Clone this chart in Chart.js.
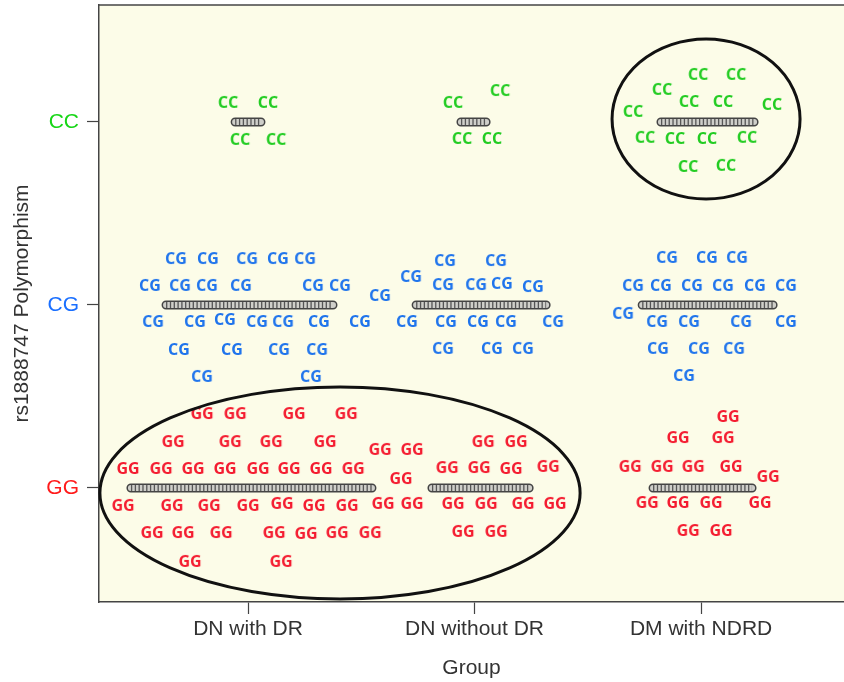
<!DOCTYPE html>
<html>
<head>
<meta charset="utf-8">
<script src="https://cdn.jsdelivr.net/npm/chart.js@4.4.1/dist/chart.umd.min.js"></script>
<style>
  html, body { margin: 0; padding: 0; background: #fff; overflow: hidden; }
  canvas { display: block; }
</style>
</head>
<body>
<canvas id="polyChart" width="844" height="682"></canvas>
<script>
// groups on the x axis, genotypes on the y axis (GG=1, CG=2, CC=3)
const groups = ["DN with DR", "DN without DR", "DM with NDRD"];
const genotypes = ["GG", "CG", "CC"];
const genoColors = ["#ff1a1a", "#1a6fff", "#17d617"];

// scattered genotype labels, [group position, genotype position]
const ccPoints = [
    [-0.088, 3.104], [0.088, 3.104], [-0.035, 2.902], [0.124, 2.902],
    [0.905, 3.104], [1.113, 3.169], [0.945, 2.907], [1.077, 2.907],
    [1.987, 3.257], [2.155, 3.257], [1.828, 3.175], [1.947, 3.109], [2.097, 3.109],
    [2.313, 3.093], [1.700, 3.055], [1.753, 2.913], [1.885, 2.907], [2.026, 2.907],
    [2.203, 2.913], [1.943, 2.754], [2.110, 2.760]
];
const cgPoints = [
    [-0.318, 2.251], [-0.177, 2.251], [-0.004, 2.251], [0.132, 2.251], [0.252, 2.251],
    [-0.433, 2.104], [-0.300, 2.104], [-0.181, 2.104], [-0.031, 2.104], [0.287, 2.104], [0.406, 2.104],
    [-0.419, 1.907], [-0.234, 1.907], [-0.102, 1.918], [0.040, 1.907], [0.155, 1.907], [0.313, 1.907], [0.494, 1.907],
    [-0.305, 1.754], [-0.071, 1.754], [0.137, 1.754], [0.305, 1.754],
    [-0.203, 1.607], [0.278, 1.607], [0.583, 2.049],
    [0.870, 2.240], [1.095, 2.240], [0.720, 2.153], [0.861, 2.109], [1.007, 2.109], [1.121, 2.115], [1.258, 2.098],
    [0.702, 1.907], [0.874, 1.907], [1.015, 1.907], [1.139, 1.907], [1.347, 1.907],
    [0.861, 1.760], [1.077, 1.760], [1.214, 1.760],
    [1.850, 2.257], [2.026, 2.257], [2.159, 2.257],
    [1.700, 2.104], [1.823, 2.104], [1.960, 2.104], [2.097, 2.104], [2.238, 2.104], [2.375, 2.104],
    [1.656, 1.951], [1.806, 1.907], [1.947, 1.907], [2.177, 1.907], [2.375, 1.907],
    [1.810, 1.760], [1.991, 1.760], [2.146, 1.760], [1.925, 1.612]
];
const ggPoints = [
    [-0.203, 1.404], [-0.057, 1.404], [0.203, 1.404], [0.433, 1.404],
    [-0.331, 1.251], [-0.079, 1.251], [0.102, 1.251], [0.340, 1.251],
    [0.583, 1.208], [0.724, 1.208],
    [-0.530, 1.104], [-0.384, 1.104], [-0.243, 1.104], [-0.102, 1.104], [0.044, 1.104],
    [0.181, 1.104], [0.322, 1.104], [0.464, 1.104], [0.675, 1.049],
    [-0.552, 0.902], [-0.336, 0.902], [-0.172, 0.902], [0.000, 0.902], [0.150, 0.913],
    [0.291, 0.902], [0.437, 0.902], [0.596, 0.913], [0.724, 0.913],
    [-0.424, 0.754], [-0.287, 0.754], [-0.119, 0.754], [0.115, 0.754], [0.256, 0.749],
    [0.393, 0.754], [0.539, 0.754], [-0.256, 0.596], [0.146, 0.596],
    [1.038, 1.251], [1.183, 1.251], [0.879, 1.109], [1.020, 1.109], [1.161, 1.104], [1.325, 1.115],
    [0.905, 0.913], [1.051, 0.913], [1.214, 0.913], [1.355, 0.913], [0.949, 0.760], [1.095, 0.760],
    [2.119, 1.388], [1.898, 1.273], [2.097, 1.273],
    [1.687, 1.115], [1.828, 1.115], [1.965, 1.115], [2.132, 1.115], [2.296, 1.060],
    [1.762, 0.918], [1.898, 0.918], [2.044, 0.918], [2.260, 0.918], [1.943, 0.765], [2.088, 0.765]
];

// x extent of each row of individual circles, per genotype
const ggRows = [[-0.517, 0.547], [0.812, 1.241], [1.788, 2.225]];
const cgRows = [[-0.362, 0.375], [0.742, 1.316], [1.740, 2.318]];
const ccRows = [[-0.057, 0.057], [0.940, 1.051], [1.823, 2.234]];

// circled regions: [centre x, centre y, radius x, radius y]
const circled = [[0.406, 0.973, 1.060, 0.579], [2.022, 3.016, 0.415, 0.437]];

function textMarker(text, color) {
    const c = document.createElement('canvas');
    c.width = 30;
    c.height = 20;
    const g = c.getContext('2d');
    g.font = 'bold 16px "Open Sans"';
    g.fillStyle = color;
    g.textAlign = 'center';
    g.textBaseline = 'middle';
    g.fillText(text, 15, 10.5);
    return c;
}

function rowLine(rows, y) {
    const out = [];
    rows.forEach(r => {
        out.push({x: r[0], y: y}, {x: r[1], y: y}, {x: null, y: null});
    });
    return out;
}
const allRows = rowLine(ggRows, 1).concat(rowLine(cgRows, 2), rowLine(ccRows, 3));

const toXY = arr => arr.map(p => ({x: p[0], y: p[1]}));

// scales here have fixed sizes, so drop the label overhang padding
function noPad(s) {
    s.paddingLeft = 0;
    s.paddingRight = 0;
    s.paddingTop = 0;
    s.paddingBottom = 0;
}

const plotDecor = {
    id: 'plotDecor',
    beforeDraw(chart) {
        const {ctx, chartArea: a} = chart;
        ctx.save();
        ctx.fillStyle = '#fcfce8';
        ctx.fillRect(a.left, a.top, a.right - a.left, a.bottom - a.top);
        ctx.restore();
    },
    afterDatasetsDraw(chart) {
        const {ctx, chartArea: a, scales: {x, y}} = chart;
        ctx.save();
        ctx.strokeStyle = '#111';
        ctx.lineWidth = 3;
        circled.forEach(e => {
            const cx = x.getPixelForValue(e[0]);
            const cy = y.getPixelForValue(e[1]);
            const rx = x.getPixelForValue(e[0] + e[2]) - cx;
            const ry = cy - y.getPixelForValue(e[1] + e[3]);
            ctx.beginPath();
            ctx.ellipse(cx, cy, rx, ry, 0, 0, Math.PI * 2);
            ctx.stroke();
        });
        // top frame line
        ctx.strokeStyle = '#444';
        ctx.lineWidth = 1.5;
        ctx.beginPath();
        ctx.moveTo(a.left, a.top);
        ctx.lineTo(a.right, a.top);
        ctx.stroke();
        ctx.restore();
    }
};

const ctx = document.getElementById('polyChart').getContext('2d');

const data = {
    datasets: [
        {
            data: toXY(ccPoints),
            pointStyle: textMarker('CC', '#22cc22'),
            order: 0
        },
        {
            data: toXY(cgPoints),
            pointStyle: textMarker('CG', '#1f74ec'),
            order: 0
        },
        {
            data: toXY(ggPoints),
            pointStyle: textMarker('GG', '#f41c30'),
            order: 0
        },
        // circle rows: outline, fill, then the ring pattern
        {
            data: allRows,
            showLine: true,
            pointRadius: 0,
            borderColor: '#444',
            borderWidth: 9,
            borderCapStyle: 'round',
            order: 3
        },
        {
            data: allRows,
            showLine: true,
            pointRadius: 0,
            borderColor: '#cfcfca',
            borderWidth: 6,
            borderCapStyle: 'round',
            order: 2
        },
        {
            data: allRows,
            showLine: true,
            pointRadius: 0,
            borderColor: '#555',
            borderWidth: 6,
            borderDash: [1.3, 2.5],
            order: 1
        }
    ]
};

const font21 = {family: '"Liberation Sans", Arial', size: 21};

const config = {
    type: 'scatter',
    data: data,
    plugins: [plotDecor],
    options: {
        responsive: false,
        animation: false,
        events: [],
        layout: {
            autoPadding: false,
            padding: {top: 5, right: 0, left: 0, bottom: 0}
        },
        plugins: {
            legend: false,
            tooltip: {enabled: false}
        },
        scales: {
            x: {
                type: 'linear',
                min: -0.658,
                max: 2.631,
                afterBuildTicks: s => { s.ticks = groups.map((g, i) => ({value: i})); },
                afterFit: s => { s.height = 80; noPad(s); },
                grid: {drawOnChartArea: false, tickLength: 12, color: '#444', tickWidth: 1.2},
                border: {color: '#444', width: 1.5},
                ticks: {
                    padding: 3,
                    color: '#333',
                    font: font21,
                    callback: v => groups[v]
                },
                title: {
                    display: true,
                    text: 'Group',
                    color: '#333',
                    font: font21,
                    padding: {top: 2, bottom: 1}
                }
            },
            y: {
                type: 'linear',
                min: 0.377,
                max: 3.639,
                afterBuildTicks: s => { s.ticks = genotypes.map((g, i) => ({value: i + 1})); },
                afterFit: s => { s.width = 99; noPad(s); },
                grid: {drawOnChartArea: false, tickLength: 12, color: '#444', tickWidth: 1.2},
                border: {color: '#444', width: 1.5},
                ticks: {
                    padding: 8,
                    color: c => genoColors[c.tick.value - 1],
                    font: font21,
                    callback: v => genotypes[v - 1]
                },
                title: {
                    display: true,
                    text: 'rs1888747 Polymorphism',
                    color: '#333',
                    font: font21,
                    padding: {top: 10, bottom: 0}
                }
            }
        }
    }
};

const polyChart = new Chart(ctx, config);
</script>
</body>
</html>
